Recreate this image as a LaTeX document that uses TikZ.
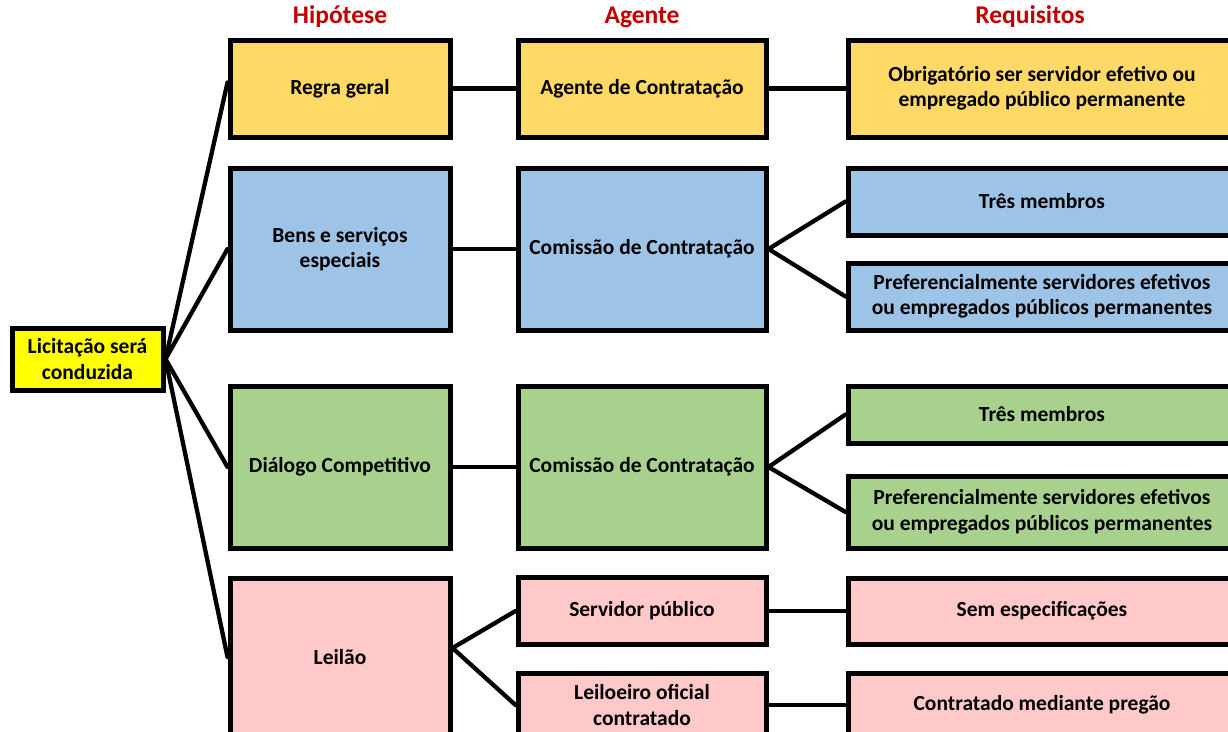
\documentclass[tikz,border=0pt]{standalone}
\usepackage{fontspec}
\setmainfont{Carlito}
\definecolor{cgold}{HTML}{FFD966}
\definecolor{cblue}{HTML}{9DC3E6}
\definecolor{cgreen}{HTML}{A9D18E}
\definecolor{cpink}{HTML}{FFC9C9}
\definecolor{cyel}{HTML}{FFFF00}
\definecolor{chead}{HTML}{C00000}
\begin{document}
\begin{tikzpicture}[x=1pt,y=-1pt,
  box/.style={draw=black, line width=5pt, inner sep=2pt, align=center,
    font=\fontsize{21.5}{25.5}\selectfont\bfseries},
  hbox/.style={box, minimum width=220pt},
  abox/.style={box, minimum width=248pt},
  rbox/.style={box, minimum width=388pt},
  head/.style={text=chead, font=\fontsize{25.5}{28}\selectfont\bfseries},
  conn/.style={line width=4.3pt, line cap=round}]
\useasboundingbox (0,0) rectangle (1228,731);
\begin{scope}
\clip (0,0) rectangle (1228,731);
% headers
\node[head] (h1) at (340,17) {Hipótese};
\node[head] (h2) at (642,17) {Agente};
\node[head] (h3) at (1030,17) {Requisitos};
% left
\node[box, fill=cyel, minimum width=151pt, minimum height=62pt] (lic) at (87.5,359) {Licitação será\\conduzida};
% hipotese
\node[hbox, fill=cgold, minimum height=97pt] (regra) at (340,88.5) {Regra geral};
\node[hbox, fill=cblue, minimum height=162pt] (bens) at (340,249) {Bens e serviços\\especiais};
\node[hbox, fill=cgreen, minimum height=162pt] (dial) at (340,467) {Diálogo Competitivo};
\node[hbox, fill=cpink, minimum height=158pt] (leilao) at (340,657) {Leilão};
% agente
\node[abox, fill=cgold, minimum height=97pt] (agente) at (642,88.5) {Agente de Contratação};
\node[abox, fill=cblue, minimum height=162pt] (com1) at (642,249) {Comissão de Contratação};
\node[abox, fill=cgreen, minimum height=162pt] (com2) at (642,467) {Comissão de Contratação};
\node[abox, fill=cpink, minimum height=67pt] (serv) at (642,611) {Servidor público};
\node[abox, fill=cpink, minimum height=64pt] (leil) at (642,705) {Leiloeiro oficial\\contratado};
% requisitos
\node[rbox, fill=cgold, minimum height=97pt] (obrig) at (1042,88.5) {Obrigatório ser servidor efetivo ou\\empregado público permanente};
\node[rbox, fill=cblue, minimum height=67pt] (tres1) at (1042,201.5) {Três membros};
\node[rbox, fill=cblue, minimum height=67pt] (pref1) at (1042,296.5) {Preferencialmente servidores efetivos\\ou empregados públicos permanentes};
\node[rbox, fill=cgreen, minimum height=57pt] (tres2) at (1042,414.5) {Três membros};
\node[rbox, fill=cgreen, minimum height=72pt] (pref2) at (1042,512) {Preferencialmente servidores efetivos\\ou empregados públicos permanentes};
\node[rbox, fill=cpink, minimum height=66pt] (sem) at (1042,611) {Sem especificações};
\node[rbox, fill=cpink, minimum height=64pt] (contr) at (1042,705) {Contratado mediante pregão};
% connectors
\draw[conn] (lic.east) -- ([yshift=6pt]regra.west);
\draw[conn] (lic.east) -- (bens.west);
\draw[conn] (lic.east) -- (dial.west);
\draw[conn] (lic.east) -- (leilao.west);
\draw[conn] (regra.east) -- (agente.west);
\draw[conn] (agente.east) -- (obrig.west);
\draw[conn] (bens.east) -- (com1.west);
\draw[conn] (com1.east) -- (tres1.west);
\draw[conn] (com1.east) -- (pref1.west);
\draw[conn] (dial.east) -- (com2.west);
\draw[conn] (com2.east) -- (tres2.west);
\draw[conn] (com2.east) -- (pref2.west);
\draw[conn] ([yshift=9pt]leilao.east) -- (serv.west);
\draw[conn] ([yshift=9pt]leilao.east) -- (leil.west);
\draw[conn] (serv.east) -- (sem.west);
\draw[conn] (leil.east) -- (contr.west);
\end{scope}
\end{tikzpicture}
\end{document}
